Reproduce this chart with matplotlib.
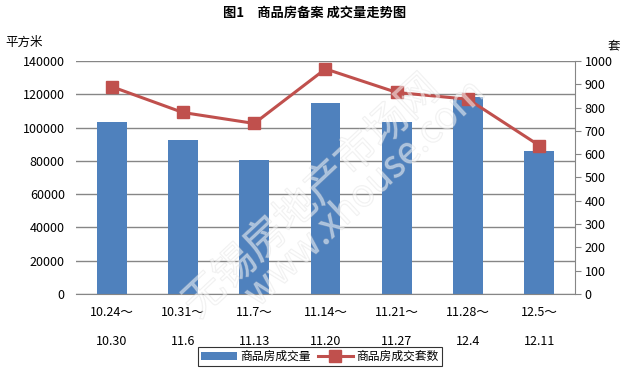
import matplotlib
matplotlib.use("Agg")
from matplotlib import pyplot as plt
import matplotlib.patheffects as pe

plt.rcParams['font.family'] = ['Noto Sans CJK SC', 'DejaVu Sans']

weeks = ["10.24～\n\n10.30", "10.31～\n\n11.6", "11.7～\n\n11.13", "11.14～\n\n11.20",
         "11.21～\n\n11.27", "11.28～\n\n12.4", "12.5～\n\n12.11"]
area = [103500, 92700, 80500, 115000, 103100, 118500, 85700]
units = [890, 779, 732, 966, 865, 836, 637]

bar_color = '#4F81BD'
line_color = '#C0504D'
grid_color = '#868686'

fig = plt.figure(figsize=(6.3, 3.72), dpi=100)
ax = fig.add_axes([0.1206, 0.2097, 0.7921, 0.6263])
ax2 = ax.twinx()

x = list(range(len(weeks)))
bars = ax.bar(x, area, width=0.42, color=bar_color, zorder=2, label='商品房成交量')
line, = ax2.plot(x, units, color=line_color, lw=2.2, marker='s', markersize=8.5,
                 zorder=3, label='商品房成交套数')

ax.set_xlim(-0.5, len(weeks) - 0.5)
ax.set_ylim(0, 140000)
ax.set_yticks(range(0, 140001, 20000))
ax2.set_ylim(0, 1000)
ax2.set_yticks(range(0, 1001, 100))

ax.yaxis.grid(True, color=grid_color, lw=1)
ax.set_axisbelow(True)
for s in ['top', 'left', 'right']:
    ax.spines[s].set_visible(False)
    ax2.spines[s].set_visible(False)
ax.spines['bottom'].set_color(grid_color)
ax2.spines['bottom'].set_visible(False)
ax2.spines['right'].set_visible(True)
ax2.spines['right'].set_color(grid_color)

ax.tick_params(axis='y', length=0, labelsize=9, pad=8)
ax.tick_params(axis='x', length=0, labelsize=9, pad=9)
ax2.tick_params(axis='y', length=4, color=grid_color, labelsize=9, pad=3)
ax.set_xticks(x)
ax.set_xticklabels(weeks, linespacing=1.15)

fig.text(0.5, 0.965, '图1　商品房备案 成交量走势图', ha='center', va='center',
         fontsize=9.5, fontweight='bold')
fig.text(0.008, 0.885, '平方米', ha='left', va='center', fontsize=9)
fig.text(0.975, 0.878, '套', ha='center', va='center', fontsize=9)

# watermark, faint outlined text
wm = dict(color='white', alpha=0.3, rotation=43, ha='center', va='center', zorder=5,
          path_effects=[pe.withStroke(linewidth=0.9, foreground='#cfcfcf')])
fig.text(0.495, 0.47, '无锡房地产市场网', fontsize=30, **wm)
fig.text(0.58, 0.48, 'www.xhouse.com', fontsize=27, **wm)

leg = fig.legend(handles=[bars, line], loc='lower center', bbox_to_anchor=(0.508, 0.0),
                 ncol=2, fontsize=8.5, frameon=True, fancybox=False, edgecolor='black',
                 handlelength=3.0, handletextpad=0.3, columnspacing=0.6,
                 borderpad=0.25)
leg.get_frame().set_linewidth(0.8)

fig.savefig('out.png', dpi=100)
